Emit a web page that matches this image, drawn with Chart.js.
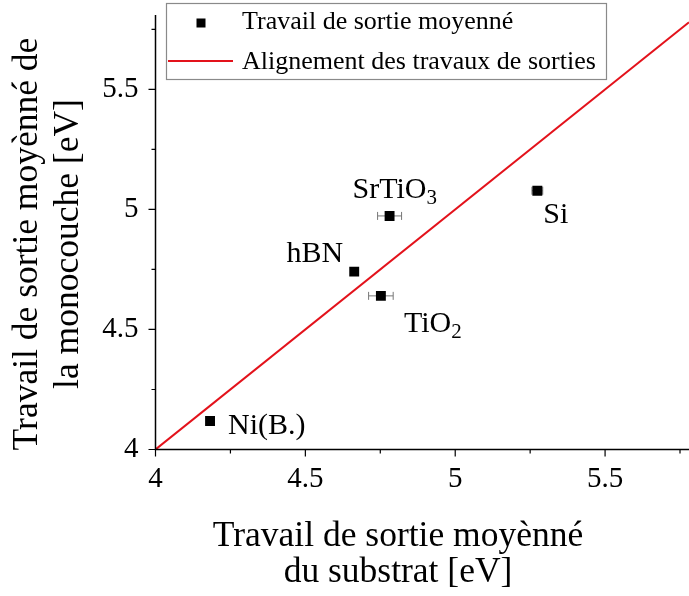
<!DOCTYPE html>
<html>
<head>
<meta charset="utf-8">
<script src="https://cdn.jsdelivr.net/npm/chart.js@4"></script>
<style>
  html, body { margin: 0; padding: 0; background: #fff; }
  canvas { display: block; }
</style>
</head>
<body>
<canvas id="wf_chart" width="689" height="596"></canvas>
<script>
// data
var names = ["Ni(B.)", "hBN", "TiO", "SrTiO", "Si"];
var subs = ["", "", "2", "3", ""];
var substrat = [4.182, 4.663, 4.752, 4.781, 5.274];     // x
var monocouche = [4.119, 4.741, 4.640, 4.973, 5.078];   // y
var xErr = [0, 0, 0.041, 0.040, 0.018];
var lineX = [4, 5.78];   // y = x
var xRange = [4, 5.78];
var yRange = [4, 5.81];
var tickStep = 0.25;

var xTitle = ["Travail de sortie moyènné", "du substrat [eV]"];
var yTitle = ["Travail de sortie moyènné de", "la monocouche [eV]"];
var legendLabels = ["Travail de sortie moyenné", "Alignement des travaux de sorties"];

/////////////////////////////////////////////////////////

var serifFam = '"Liberation Serif", "Times New Roman", serif';
var red = '#e3121b';

Chart.defaults.font.family = serifFam;
Chart.defaults.color = '#000';

// label offsets from the marker, in px: dx, dy (baseline), align
var labelPos = [[18, 13, 'left'], [-11, -10, 'right'], [23, 36, 'left'], [-37, -18, 'left'], [6, 32, 'left']];

function fmt(v) {
    var r = Math.round(v * 100) / 100;
    return Math.abs(r * 2 - Math.round(r * 2)) < 1e-6 ? String(r) : '';
}

function drawSubText(ctx, text, sub, x, y, align, size) {
    ctx.font = size + 'px ' + serifFam;
    var w1 = ctx.measureText(text).width;
    ctx.font = Math.round(size * 0.7) + 'px ' + serifFam;
    var w2 = sub ? ctx.measureText(sub).width : 0;
    var x0 = align === 'right' ? x - w1 - w2 : x;
    ctx.textAlign = 'left';
    ctx.font = size + 'px ' + serifFam;
    ctx.fillText(text, x0, y);
    if (sub) {
        ctx.font = Math.round(size * 0.7) + 'px ' + serifFam;
        ctx.fillText(sub, x0 + w1, y + size * 0.2);
    }
}

function noPad(s) {
    s.paddingLeft = 0; s.paddingRight = 0; s.paddingTop = 0; s.paddingBottom = 0;
}

var decor = {
    id: 'decor',
    beforeDatasetsDraw: function(chart) {
        var ctx = chart.ctx, xs = chart.scales.x, ys = chart.scales.y;
        ctx.save();
        ctx.strokeStyle = '#777';
        ctx.lineWidth = 1;
        for (var i = 0; i < substrat.length; i++) {
            if (!xErr[i]) continue;
            var x1 = xs.getPixelForValue(substrat[i] - xErr[i]);
            var x2 = xs.getPixelForValue(substrat[i] + xErr[i]);
            var y = ys.getPixelForValue(monocouche[i]);
            ctx.beginPath();
            ctx.moveTo(x1, y); ctx.lineTo(x2, y);
            ctx.moveTo(x1, y - 4); ctx.lineTo(x1, y + 4);
            ctx.moveTo(x2, y - 4); ctx.lineTo(x2, y + 4);
            ctx.stroke();
        }
        ctx.restore();
    },
    afterDraw: function(chart) {
        var ctx = chart.ctx, xs = chart.scales.x, ys = chart.scales.y;
        var a = chart.chartArea;
        ctx.save();

        // axes + tick marks
        ctx.strokeStyle = '#000';
        ctx.lineWidth = 1.5;
        ctx.beginPath();
        ctx.moveTo(a.left, a.top); ctx.lineTo(a.left, a.bottom); ctx.lineTo(a.right, a.bottom);
        ctx.stroke();
        ctx.lineWidth = 1.2;
        ctx.beginPath();
        for (var k = 0; xRange[0] + k * tickStep <= xRange[1]; k++) {
            var px = xs.getPixelForValue(xRange[0] + k * tickStep);
            ctx.moveTo(px, a.bottom); ctx.lineTo(px, a.bottom + (k % 2 ? 4 : 7));
        }
        for (var k = 0; yRange[0] + k * tickStep <= yRange[1]; k++) {
            var py = ys.getPixelForValue(yRange[0] + k * tickStep);
            ctx.moveTo(a.left, py); ctx.lineTo(a.left - (k % 2 ? 4 : 7), py);
        }
        ctx.stroke();

        // point labels
        ctx.fillStyle = '#000';
        ctx.textBaseline = 'alphabetic';
        for (var i = 0; i < names.length; i++) {
            var x = xs.getPixelForValue(substrat[i]) + labelPos[i][0];
            var y = ys.getPixelForValue(monocouche[i]) + labelPos[i][1];
            drawSubText(ctx, names[i], subs[i], x, y, labelPos[i][2], 30);
        }

        // axis titles
        ctx.textAlign = 'center';
        ctx.font = '35.5px ' + serifFam;
        ctx.fillText(xTitle[0], 398, 546);
        ctx.fillText(xTitle[1], 398, 582);
        ctx.save();
        ctx.translate(37, 244);
        ctx.rotate(-Math.PI / 2);
        ctx.fillText(yTitle[0], 0, 0);
        ctx.restore();
        ctx.save();
        ctx.translate(78, 244);
        ctx.rotate(-Math.PI / 2);
        ctx.fillText(yTitle[1], 0, 0);
        ctx.restore();

        // legend
        ctx.fillStyle = '#fff';
        ctx.fillRect(166, 3, 440, 77);
        ctx.strokeStyle = '#8a8a8a';
        ctx.lineWidth = 1.2;
        ctx.strokeRect(166.5, 3.5, 440, 76);
        ctx.fillStyle = '#000';
        ctx.fillRect(196.5, 18.5, 9, 9);
        ctx.strokeStyle = red;
        ctx.lineWidth = 2;
        ctx.beginPath();
        ctx.moveTo(168, 61); ctx.lineTo(233, 61);
        ctx.stroke();
        ctx.textAlign = 'left';
        ctx.font = '26px ' + serifFam;
        ctx.fillText(legendLabels[0], 242, 29);
        ctx.fillText(legendLabels[1], 242, 69);

        ctx.restore();
    }
};

var points = [];
for (var i = 0; i < substrat.length; i++) points.push({ x: substrat[i], y: monocouche[i] });

var dataPoints = {
    type: 'scatter',
    label: legendLabels[0],
    data: points,
    pointStyle: 'rect',
    pointRadius: 7,
    backgroundColor: '#000',
    borderColor: '#000',
    borderWidth: 0,
    order: 1
};

var dataLine = {
    type: 'line',
    label: legendLabels[1],
    data: lineX.map(function(v) { return { x: v, y: v }; }),
    borderColor: red,
    borderWidth: 2,
    pointRadius: 0,
    fill: false,
    tension: 0,
    order: 2
};

var chartOptions = {
    responsive: false,
    animation: false,
    layout: { autoPadding: false, padding: { top: 15, right: 0, left: 0, bottom: 0 } },
    plugins: {
        legend: { display: false },
        tooltip: { enabled: false }
    },
    scales: {
        x: {
            type: 'linear',
            min: xRange[0],
            max: xRange[1],
            grid: { display: false, drawTicks: false },
            border: { display: false },
            ticks: { stepSize: tickStep, padding: 12, color: '#000', font: { family: serifFam, size: 29 }, callback: fmt, autoSkip: false, maxRotation: 0 },
            afterFit: function(s) { s.height = 146.5; noPad(s); }
        },
        y: {
            type: 'linear',
            min: yRange[0],
            max: yRange[1],
            grid: { display: false, drawTicks: false },
            border: { display: false },
            ticks: { stepSize: tickStep, padding: 17, color: '#000', font: { family: serifFam, size: 29 }, callback: fmt, autoSkip: false },
            afterFit: function(s) { s.width = 155.5; noPad(s); }
        }
    }
};

new Chart(document.getElementById("wf_chart"), {
    type: 'scatter',
    data: { datasets: [dataPoints, dataLine] },
    options: chartOptions,
    plugins: [decor]
});
</script>
</body>
</html>
